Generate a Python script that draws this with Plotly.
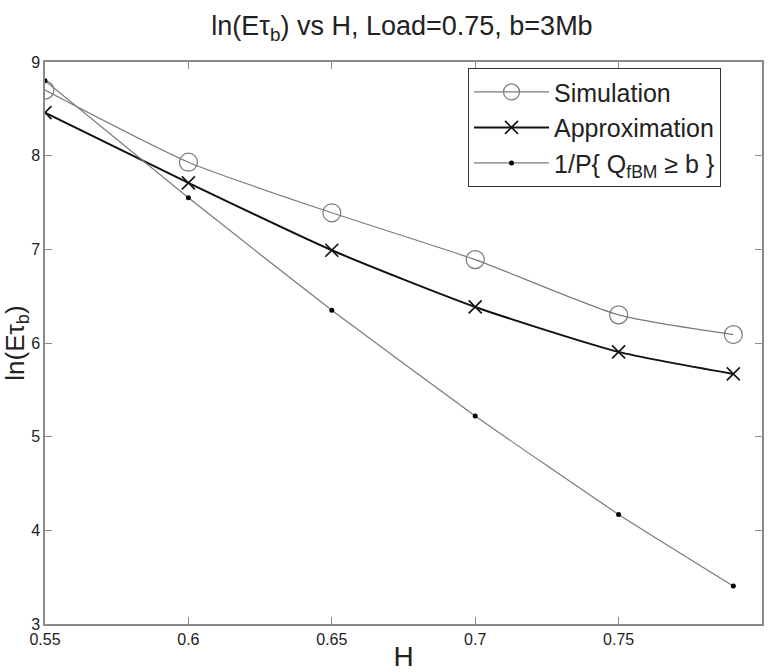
import plotly.graph_objects as go

# Hurst parameter values
H = [0.55, 0.60, 0.65, 0.70, 0.75, 0.79]

# ln(E tau_b) for each method
simulation = [8.70, 7.93, 7.39, 6.89, 6.30, 6.09]
approximation = [8.46, 7.71, 6.99, 6.385, 5.905, 5.67]
inv_p_fbm = [8.80, 7.55, 6.35, 5.22, 4.17, 3.405]

x_ticks = [0.55, 0.6, 0.65, 0.7, 0.75, 0.8]
x_tick_text = ["0.55", "0.6", "0.65", "0.7", "0.75", "0.8"]
y_ticks = [3, 4, 5, 6, 7, 8, 9]

FONT = "Liberation Sans, Arial, sans-serif"

fig = go.Figure()

fig.add_trace(go.Scatter(
    x=H, y=simulation, name="Simulation", mode="lines+markers",
    line=dict(color="#7a7a7a", width=1.2, shape="spline", smoothing=0.6),
    marker=dict(symbol="circle-open", size=18, color="#7a7a7a", line=dict(width=1.2)),
))
fig.add_trace(go.Scatter(
    x=H, y=approximation, name="Approximation", mode="lines+markers",
    line=dict(color="#111111", width=2, shape="spline", smoothing=0.6),
    marker=dict(symbol="x-thin-open", size=13, color="#111111", line=dict(width=1.6, color="#111111")),
))
fig.add_trace(go.Scatter(
    x=H, y=inv_p_fbm, name="1/P{ Q<sub>fBM</sub> ≥ b }", mode="lines+markers",
    line=dict(color="#7a7a7a", width=1.2, shape="spline", smoothing=0.4),
    marker=dict(symbol="circle", size=5, color="#000000"),
))

axis_common = dict(
    showline=True, linecolor="#8a8a8a", linewidth=1.5, mirror="allticks",
    ticks="inside", ticklen=7, tickcolor="#8a8a8a", tickwidth=1,
    showgrid=False, zeroline=False, automargin=False,
    tickfont=dict(family=FONT, size=16, color="#222222"),
)

fig.update_layout(
    width=773, height=672,
    margin=dict(l=45, r=11, t=62, b=48),
    paper_bgcolor="white", plot_bgcolor="white",
    font=dict(family=FONT, color="#222222"),
    title=dict(
        text="ln(Eτ<sub>b</sub>) vs H, Load=0.75, b=3Mb",
        x=0.52, xanchor="center", y=0.962, yanchor="middle",
        font=dict(family=FONT, size=27, color="#222222"),
    ),
    xaxis=dict(
        range=[0.55, 0.8], tickvals=x_ticks, ticktext=x_tick_text,
        title=dict(text="H", font=dict(family=FONT, size=28), standoff=6),
        **axis_common,
    ),
    yaxis=dict(
        range=[3, 9], tickvals=y_ticks,
        title=dict(text="ln(Eτ<sub>b</sub>)", font=dict(family=FONT, size=26), standoff=0),
        **axis_common,
    ),
    legend=dict(
        x=0.59, y=0.989, xanchor="left", yanchor="top",
        bgcolor="white", bordercolor="#333333", borderwidth=1,
        font=dict(family=FONT, size=25, color="#222222"),
        tracegroupgap=0, itemwidth=75,
    ),
    showlegend=True,
)

fig.write_html("out.html")
